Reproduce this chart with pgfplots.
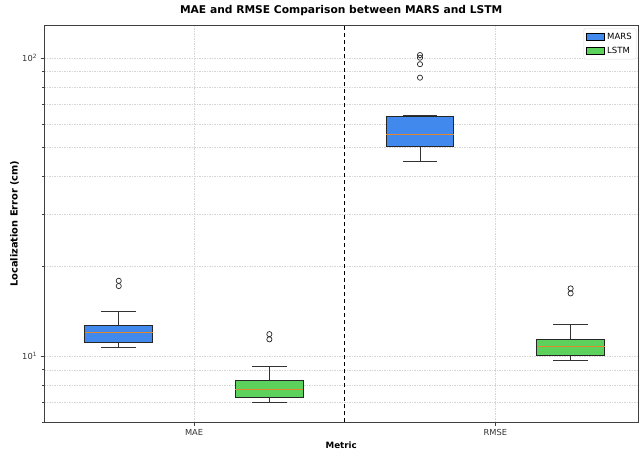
\documentclass[border=0pt]{standalone}
\usepackage{pgfplots}
\pgfplotsset{compat=1.18}
\usepackage{fontspec}
\setmainfont{DejaVu Sans}
\definecolor{marsblue}{RGB}{65,137,237}
\definecolor{lstmgreen}{RGB}{92,210,92}
\definecolor{medorange}{RGB}{225,135,45}
\begin{document}
\begin{tikzpicture}
\begin{axis}[
  name=main,
  scale only axis, width=594pt, height=397pt,
  ymode=log, ymin=6, ymax=129,
  xmin=-0.498, xmax=1.475,
  xtick={0,1}, xticklabels={MAE,RMSE},
  ytick={10,100}, yticklabels={10\textsuperscript{1},10\textsuperscript{2}},
  minor ytick={6,7,8,9,20,30,40,50,60,70,80,90},
  grid=both,
  major grid style={dash pattern=on 1.5pt off 1pt, gray!32, line width=0.5pt},
  minor grid style={dash pattern=on 1.5pt off 1pt, gray!32, line width=0.5pt},
  tick align=outside, tick pos=left,
  major tick length=3.5pt, minor tick length=2pt,
  tick style={black!75, line width=0.6pt},
  axis line style={gray!80, line width=1.2pt},
  y axis line style={black!75, line width=0.8pt},
  ticklabel style={font=\fontsize{8.3}{10}\selectfont, black!80},
  title={\bfseries MAE and RMSE Comparison between MARS and LSTM},
  title style={font=\fontsize{10.7}{12}\selectfont, at={(0.5,1)}, anchor=base, yshift=5.5pt, inner sep=0pt},
  xlabel={\bfseries Metric},
  xlabel style={font=\fontsize{8.7}{10}\selectfont, at={(0.5,0)}, anchor=base, yshift=-26pt, inner sep=0pt},
  ylabel={\bfseries Localization Error (cm)},
  ylabel style={font=\fontsize{9.8}{11}\selectfont, at={(0,0.5)}, anchor=base, yshift=26.5pt, inner sep=0pt},
  legend style={at={(1,1)}, anchor=north east, xshift=-2pt, yshift=-3.3pt, draw=gray!30, rounded corners=2pt,
    font=\fontsize{8.5}{10}\selectfont, row sep=2pt, inner sep=2.5pt},
  legend cell align=left,
  legend image code/.code={\draw[sharp corners, #1] (0pt,-3.5pt) rectangle (18pt,3.5pt);},
  unbounded coords=jump,
  whisk/.style={forget plot, black!80, line width=0.8pt},
  boxst/.style={forget plot, draw=black!85, line width=0.9pt},
  med/.style={forget plot, medorange, line width=1pt},
]
\addlegendimage{fill=marsblue, draw=black, line width=0.9pt}
\addlegendentry{MARS}
\addlegendimage{fill=lstmgreen, draw=black, line width=0.9pt}
\addlegendentry{LSTM}

% ---- MARS, MAE (position -0.25): lw 10.69, q1 11.14, med 12.04, q3 12.68, uw 14.08
\addplot[whisk] coordinates {(-0.25,12.68) (-0.25,14.08) (nan,nan) (-0.3075,14.08) (-0.1925,14.08) (nan,nan)
  (-0.25,11.14) (-0.25,10.69) (nan,nan) (-0.3075,10.69) (-0.1925,10.69)};
\addplot[boxst, fill=marsblue] coordinates {(-0.3625,11.14) (-0.1375,11.14) (-0.1375,12.68) (-0.3625,12.68)} --cycle;
\addplot[med] coordinates {(-0.3625,12.04) (-0.1375,12.04)};

% ---- LSTM, MAE (position 0.25): lw 6.99, q1 7.284, med 7.729, q3 8.308, uw 9.26
\addplot[whisk] coordinates {(0.25,8.308) (0.25,9.26) (nan,nan) (0.1925,9.26) (0.3075,9.26) (nan,nan)
  (0.25,7.284) (0.25,6.99) (nan,nan) (0.1925,6.99) (0.3075,6.99)};
\addplot[boxst, fill=lstmgreen] coordinates {(0.1375,7.284) (0.3625,7.284) (0.3625,8.308) (0.1375,8.308)} --cycle;
\addplot[med] coordinates {(0.1375,7.729) (0.3625,7.729)};

% ---- MARS, RMSE (position 0.75): lw 44.9, q1 50.4, med 55.5, q3 63.8, uw 64.2
\addplot[whisk] coordinates {(0.75,63.8) (0.75,64.2) (nan,nan) (0.6925,64.2) (0.8075,64.2) (nan,nan)
  (0.75,50.4) (0.75,44.9) (nan,nan) (0.6925,44.9) (0.8075,44.9)};
\addplot[boxst, fill=marsblue] coordinates {(0.6375,50.4) (0.8625,50.4) (0.8625,63.8) (0.6375,63.8)} --cycle;
\addplot[med] coordinates {(0.6375,55.5) (0.8625,55.5)};

% ---- LSTM, RMSE (position 1.25): lw 9.69, q1 10.08, med 10.74, q3 11.4, uw 12.78
\addplot[whisk] coordinates {(1.25,11.4) (1.25,12.78) (nan,nan) (1.1925,12.78) (1.3075,12.78) (nan,nan)
  (1.25,10.08) (1.25,9.69) (nan,nan) (1.1925,9.69) (1.3075,9.69)};
\addplot[boxst, fill=lstmgreen] coordinates {(1.1375,10.08) (1.3625,10.08) (1.3625,11.4) (1.1375,11.4)} --cycle;
\addplot[med] coordinates {(1.1375,10.74) (1.3625,10.74)};

% outliers
\addplot[forget plot, only marks, mark=o, mark size=2.6pt, mark options={draw=black!85, line width=0.7pt}]
  coordinates {(-0.25,17.89) (-0.25,17.18) (0.25,11.85) (0.25,11.38)
  (0.75,102.3) (0.75,100.2) (0.75,95.3) (0.75,85.9) (1.25,16.87) (1.25,16.23)};

% separator
\addplot[forget plot, black, dash pattern=on 4.5pt off 2.5pt, line width=1.4pt] coordinates {(0.5,6) (0.5,129)};
\end{axis}
\pgfresetboundingbox
\path[use as bounding box] ([shift={(-44pt,-30pt)}]main.south west) rectangle ([shift={(0.6pt,25pt)}]main.north east);
\end{tikzpicture}
\end{document}
